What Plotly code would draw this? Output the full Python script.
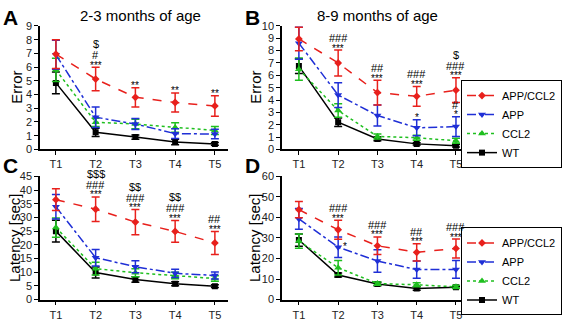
import plotly.graph_objects as go

# ---------------- data ----------------
categories = ["T1", "T2", "T3", "T4", "T5"]
xpos = [1, 2, 3, 4, 5]
series_names = ["APP/CCL2", "APP", "CCL2", "WT"]

# Panel A: Error, 2-3 months
apc_A = [6.95, 5.13, 3.80, 3.42, 3.17]
apc_A_err = [1.05, 0.85, 0.70, 0.70, 0.75]
app_A = [6.90, 2.35, 1.85, 1.15, 1.12]
app_A_err = [1.05, 0.75, 0.40, 0.35, 0.35]
ccl_A = [5.80, 1.98, 1.85, 1.60, 1.38]
ccl_A_err = [0.85, 0.30, 0.35, 0.35, 0.30]
wt_A = [4.85, 1.25, 0.90, 0.55, 0.40]
wt_A_err = [0.80, 0.30, 0.15, 0.20, 0.10]

# Panel B: Error, 8-9 months
apc_B = [8.95, 7.00, 4.60, 4.30, 4.80]
apc_B_err = [0.95, 1.05, 1.00, 0.80, 1.00]
app_B = [8.60, 4.40, 2.75, 1.75, 1.85]
app_B_err = [1.30, 1.00, 0.85, 0.65, 0.80]
ccl_B = [6.50, 3.15, 1.05, 0.95, 0.70]
ccl_B_err = [0.90, 0.55, 0.20, 0.20, 0.20]
wt_B = [6.75, 2.20, 0.85, 0.45, 0.30]
wt_B_err = [0.60, 0.35, 0.15, 0.10, 0.10]

# Panel C: Latency, 2-3 months
apc_C = [36.5, 33.0, 28.3, 24.9, 20.7]
apc_C_err = [4.0, 4.5, 4.6, 4.0, 4.2]
app_C = [33.9, 15.3, 12.0, 9.6, 8.8]
app_C_err = [4.5, 3.0, 2.2, 1.5, 1.3]
ccl_C = [26.3, 11.3, 9.8, 8.8, 7.7]
ccl_C_err = [3.5, 2.3, 1.5, 1.2, 1.0]
wt_C = [25.0, 9.9, 7.3, 5.8, 4.9]
wt_C_err = [4.0, 2.0, 1.0, 0.7, 0.5]

# Panel D: Latency, 8-9 months
apc_D = [43.8, 34.0, 26.2, 23.0, 24.9]
apc_D_err = [4.0, 4.6, 4.3, 4.2, 4.6]
app_D = [39.3, 25.5, 18.8, 14.6, 14.7]
app_D_err = [5.0, 5.0, 5.5, 4.2, 4.3]
ccl_D = [28.5, 15.5, 7.8, 7.2, 6.2]
ccl_D_err = [3.5, 3.5, 0.8, 1.0, 0.8]
wt_D = [29.0, 12.0, 7.6, 5.4, 6.0]
wt_D_err = [3.0, 1.0, 0.8, 0.8, 0.5]

# significance marks: (panel, series index, point index, labels bottom->top)
sig_marks = [
    ("A", 0, 1, ["***", "#", "$"]), ("A", 0, 2, ["**"]), ("A", 0, 3, ["**"]), ("A", 0, 4, ["**"]),
    ("B", 0, 1, ["***", "###"]), ("B", 0, 2, ["***", "##"]), ("B", 0, 3, ["***", "###"]),
    ("B", 0, 4, ["***", "###", "$"]), ("B", 1, 3, ["*"]), ("B", 1, 4, ["*", "#"]),
    ("C", 0, 1, ["***", "###", "$$$"]), ("C", 0, 2, ["***", "###", "$$"]),
    ("C", 0, 3, ["***", "###", "$$"]), ("C", 0, 4, ["***", "##"]),
    ("D", 0, 1, ["***", "###"]), ("D", 0, 2, ["***", "###"]), ("D", 0, 3, ["***", "##"]),
    ("D", 0, 4, ["***", "###"]),
]
side_marks = [("D", 1, 1, "*")]

panels = {
    "A": [(apc_A, apc_A_err), (app_A, app_A_err), (ccl_A, ccl_A_err), (wt_A, wt_A_err)],
    "B": [(apc_B, apc_B_err), (app_B, app_B_err), (ccl_B, ccl_B_err), (wt_B, wt_B_err)],
    "C": [(apc_C, apc_C_err), (app_C, app_C_err), (ccl_C, ccl_C_err), (wt_C, wt_C_err)],
    "D": [(apc_D, apc_D_err), (app_D, app_D_err), (ccl_D, ccl_D_err), (wt_D, wt_D_err)],
}

# ---------------- styles ----------------
colors = ["#e8201c", "#1f2fd6", "#1fbf1f", "#000000"]
dashes = ["dash", "dashdot", "dot", "solid"]
symbols = ["diamond", "triangle-down", "triangle-up", "square"]
msizes = [6, 7, 7, 6]

W, H = 563, 321
FONT = "Liberation Sans, Arial, sans-serif"

axes_ids = {"A": ("x", "y"), "B": ("x2", "y2"), "C": ("x3", "y3"), "D": ("x4", "y4")}
legend_of = {"B": "legend", "D": "legend2"}

traces = []
for p, data in panels.items():
    xa, ya = axes_ids[p]
    for i, (vals, errs) in enumerate(data):
        traces.append(go.Scatter(
            x=xpos, y=vals, name=series_names[i], xaxis=xa, yaxis=ya,
            mode="lines+markers",
            line=dict(color=colors[i], dash=dashes[i], width=1.5),
            marker=dict(symbol=symbols[i], size=msizes[i], color=colors[i]),
            error_y=dict(type="data", array=errs, visible=True, color=colors[i],
                         thickness=1.5, width=4),
            showlegend=p in legend_of,
            legend=legend_of.get(p, "legend"),
        ))

# draw WT first so that APP/CCL2 ends on top
fig = go.Figure(data=list(reversed(traces)))

# significance annotations
for p, si, pi, labels in sig_marks:
    xa, ya = axes_ids[p]
    vals, errs = panels[p][si]
    top = vals[pi] + errs[pi]
    for k, lab in enumerate(labels):
        is_star = lab.startswith("*")
        if is_star:
            shift = 2
        else:
            shift = 12 + 11 * (k - 1) if k >= 1 else 5
        fig.add_annotation(
            x=xpos[pi], y=top, xref=xa, yref=ya, text=lab, showarrow=False,
            yanchor="middle", yshift=shift,
            font=dict(family=FONT, size=10 if is_star else 11, color="#000000"),
        )
for p, si, pi, lab in side_marks:
    xa, ya = axes_ids[p]
    vals, errs = panels[p][si]
    fig.add_annotation(
        x=xpos[pi], y=vals[pi], xref=xa, yref=ya, text=lab, showarrow=False,
        xshift=7, yshift=1, font=dict(family=FONT, size=10, color="#000000"),
    )

# layout
def px_x(v):
    return v / W

def px_y(v):
    return 1 - v / H

xdom_left = [px_x(40), px_x(228)]
xdom_right = [px_x(282), px_x(476)]
ydom_top = [px_y(149), px_y(20.7)]
ydom_bot = [px_y(305), px_y(177)]

common_x = dict(tickvals=xpos, ticktext=categories, showline=True, linecolor="black",
                linewidth=1.5, ticks="outside", ticklen=4, tickcolor="black",
                showgrid=False, zeroline=False, tickfont=dict(family=FONT, size=11, color="#222"))
common_y = dict(showline=True, linecolor="black", linewidth=1.5, ticks="outside", ticklen=4,
                tickcolor="black", showgrid=False, zeroline=False,
                tickfont=dict(family=FONT, size=11, color="#222"))

leg_common = dict(x=px_x(562), xanchor="right", yanchor="top",
                  bordercolor="black", borderwidth=1, bgcolor="white",
                  font=dict(family=FONT, size=11, color="black"), itemwidth=30,
                  traceorder="reversed", tracegroupgap=0)

fig.update_layout(
    width=W, height=H, margin=dict(l=0, r=0, t=0, b=0),
    paper_bgcolor="white", plot_bgcolor="white",
    font=dict(family=FONT, color="black"),
    xaxis=dict(domain=xdom_left, range=[0.6, 5.33], anchor="y", **common_x),
    yaxis=dict(domain=ydom_top, range=[0, 9], dtick=1, anchor="x", **common_y),
    xaxis2=dict(domain=xdom_right, range=[0.57, 5.51], anchor="y2", **common_x),
    yaxis2=dict(domain=ydom_top, range=[0, 10], dtick=1, anchor="x2", **common_y),
    xaxis3=dict(domain=xdom_left, range=[0.6, 5.33], anchor="y3", **common_x),
    yaxis3=dict(domain=ydom_bot, range=[0, 45], dtick=5, anchor="x3", **common_y),
    xaxis4=dict(domain=xdom_right, range=[0.57, 5.51], anchor="y4", **common_x),
    yaxis4=dict(domain=ydom_bot, range=[0, 60], dtick=10, anchor="x4", **common_y),
    legend=dict(y=px_y(77), **leg_common),
    legend2=dict(y=px_y(230), **leg_common),
)

# titles, panel letters, axis titles
texts = [
    ("2-3 months of age", 140, 10, 15, False, 0),
    ("8-9 months of age", 377, 10, 15, False, 0),
    ("A", 10, 12, 21, True, 0),
    ("B", 252, 12, 21, True, 0),
    ("C", 10, 166, 21, True, 0),
    ("D", 252, 166, 21, True, 0),
    ("Error", 17, 85, 15, False, -90),
    ("Error", 256, 85, 15, False, -90),
    ("Latency [sec]", 15, 241, 15, False, -90),
    ("Latency [sec]", 255, 241, 15, False, -90),
]
for t, xx, yy, sz, bold, ang in texts:
    fig.add_annotation(
        x=px_x(xx), y=px_y(yy), xref="paper", yref="paper", showarrow=False,
        text=f"<b>{t}</b>" if bold else t, textangle=ang,
        xanchor="center", yanchor="middle",
        font=dict(family=FONT, size=sz, color="black"),
    )

fig.write_html("out.html")
